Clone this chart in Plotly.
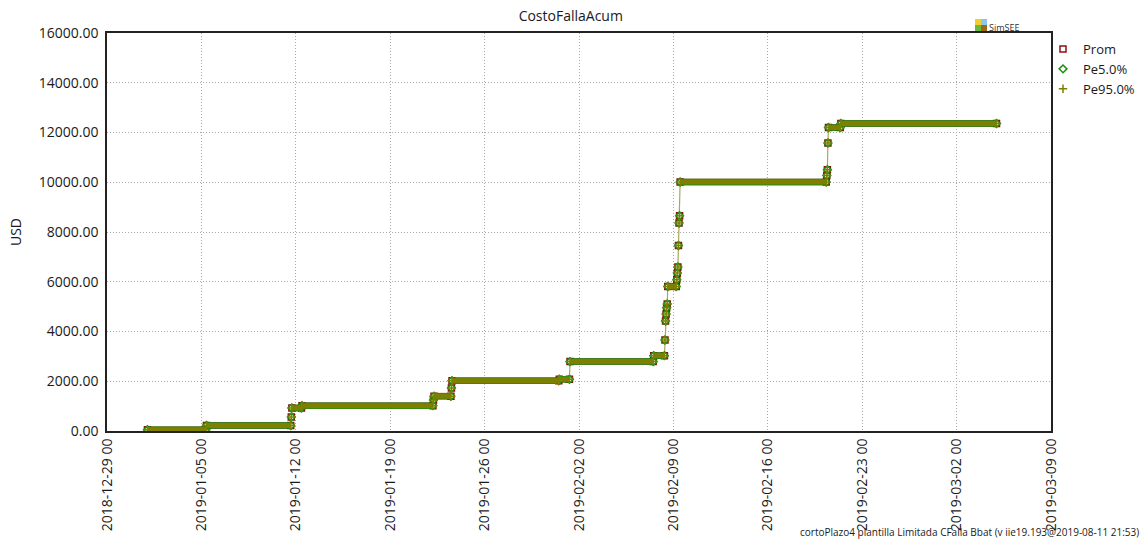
import plotly.graph_objects as go

# Hourly samples where the accumulated failure cost changes (start/end of each plateau
# and the intermediate hours of every failure event).
times = [
    "2019-01-01 00:00", "2019-01-05 08:00",
    "2019-01-05 09:00", "2019-01-11 15:00",
    "2019-01-11 16:00",
    "2019-01-11 17:00", "2019-01-12 10:00",
    "2019-01-12 11:00", "2019-01-22 04:00",
    "2019-01-22 05:00",
    "2019-01-22 06:00", "2019-01-23 12:00",
    "2019-01-23 13:00",
    "2019-01-23 14:00", "2019-01-31 12:00",
    "2019-01-31 13:00", "2019-02-01 07:00",
    "2019-02-01 08:00", "2019-02-07 12:00",
    "2019-02-07 13:00", "2019-02-08 08:00",
    "2019-02-08 09:00", "2019-02-08 10:00", "2019-02-08 11:00",
    "2019-02-08 12:00", "2019-02-08 13:00",
    "2019-02-08 14:00", "2019-02-09 05:00",
    "2019-02-09 06:00", "2019-02-09 07:00", "2019-02-09 08:00",
    "2019-02-09 09:00", "2019-02-09 10:00", "2019-02-09 11:00",
    "2019-02-09 12:00", "2019-02-20 08:00",
    "2019-02-20 09:00", "2019-02-20 10:00", "2019-02-20 11:00",
    "2019-02-20 12:00", "2019-02-21 09:00",
    "2019-02-21 10:00", "2019-03-04 23:00",
]

prom = [50, 50, 220, 220, 560, 925, 925, 1020, 1020, 1250, 1400, 1400, 1730,
        2020, 2020, 2080, 2080, 2790, 2790, 3030, 3030,
        3660, 4420, 4700, 4950, 5110, 5810, 5810,
        6080, 6350, 6590, 7460, 8360, 8650,
        10010, 10010, 10270, 10500, 11580, 12200, 12200, 12360, 12360]

pe05 = [50, 50, 220, 220, 560, 925, 925, 1020, 1020, 1250, 1400, 1400, 1730,
        2020, 2020, 2080, 2080, 2790, 2790, 3030, 3030,
        3660, 4420, 4700, 4950, 5110, 5810, 5810,
        6080, 6350, 6590, 7460, 8360, 8650,
        10010, 10010, 10270, 10500, 11580, 12200, 12200, 12360, 12360]

pe95 = [50, 50, 220, 220, 560, 925, 925, 1020, 1020, 1250, 1400, 1400, 1730,
        2020, 2020, 2080, 2080, 2790, 2790, 3030, 3030,
        3660, 4420, 4700, 4950, 5110, 5810, 5810,
        6080, 6350, 6590, 7460, 8360, 8650,
        10010, 10010, 10270, 10500, 11580, 12200, 12200, 12360, 12360]

y_ticks = [0, 2000, 4000, 6000, 8000, 10000, 12000, 14000, 16000]
x_ticks = ["2018-12-29", "2019-01-05", "2019-01-12", "2019-01-19", "2019-01-26",
           "2019-02-02", "2019-02-09", "2019-02-16", "2019-02-23", "2019-03-02",
           "2019-03-09"]

series = [
    ("Prom", prom, "#8b1010", "square-open", 6, 6.5),
    ("Pe5.0%", pe05, "#1f8f10", "diamond-open", 6, 6.5),
    ("Pe95.0%", pe95, "#7f7f00", "cross-thin-open", 6, 5.0),
]

FONT = "Open Sans, DejaVu Sans, sans-serif"

# Plot-area placement in pixels
W, H = 1144, 540
ML, MR, MT, MB = 107, 93, 33, 109
PW, PH = W - ML - MR, H - MT - MB


def px(x):
    return (x - ML) / PW


def py(y):
    return (H - MB - y) / PH


def plateaus(t, v):
    """Segments where the accumulated value stays flat between consecutive samples."""
    xs, ys = [], []
    for i in range(len(v) - 1):
        if v[i] == v[i + 1]:
            xs += [t[i], t[i + 1], None]
            ys += [v[i], v[i + 1], None]
    return xs, ys


fig = go.Figure()

# thin connecting line through every hourly sample
fig.add_trace(go.Scatter(
    x=times, y=pe95, mode="lines", showlegend=False, hoverinfo="skip",
    line=dict(color="#aaa65a", width=1.2),
))

for name, vals, color, symbol, msize, bandw in series:
    bx, by = plateaus(times, vals)
    fig.add_trace(go.Scatter(
        x=bx, y=by, mode="lines", showlegend=False, hoverinfo="skip",
        line=dict(color=color, width=bandw),
    ))
    fig.add_trace(go.Scatter(
        x=times, y=vals, mode="markers", name=name,
        marker=dict(symbol=symbol, size=msize, color=color,
                    line=dict(color=color, width=1.5)),
    ))

# SimSEE badge above the top-right corner of the plot
logo = [
    (975, 19, 981, 25, "#f2cf2e"),
    (981, 19, 987, 25, "#8cc6ee"),
    (975, 25, 981, 31, "#6cb83a"),
    (981, 25, 987, 31, "#9a6a10"),
]
shapes = [
    dict(type="rect", xref="paper", yref="paper",
         x0=px(a), y0=py(d), x1=px(c), y1=py(b),
         fillcolor=col, line=dict(width=0))
    for a, b, c, d, col in logo
]

fig.update_layout(
    width=W, height=H,
    margin=dict(l=ML, r=MR, t=MT, b=MB, autoexpand=False),
    paper_bgcolor="white", plot_bgcolor="white",
    font=dict(family=FONT, size=14, color="#1a1a1a"),
    title=dict(text="CostoFallaAcum", x=px(578), xanchor="center",
               y=1 - 16 / H, yanchor="middle",
               font=dict(family=FONT, size=14, color="#1a1a1a")),
    showlegend=True,
    legend=dict(x=px(1043), y=py(34), xanchor="left", yanchor="top",
                bgcolor="rgba(0,0,0,0)", borderwidth=0, itemwidth=30,
                tracegroupgap=0, font=dict(family=FONT, size=13, color="#1a1a1a")),
    shapes=shapes,
    annotations=[
        dict(text="SimSEE", xref="paper", yref="paper", x=px(987), y=py(27),
             xanchor="left", yanchor="middle", showarrow=False,
             font=dict(family=FONT, size=9, color="#333333")),
        dict(text="cortoPlazo4 plantilla Limitada CFalla Bbat (v iie19.193@2019-08-11 21:53)",
             xref="paper", yref="paper", x=px(1141), y=py(532),
             xanchor="right", yanchor="middle", showarrow=False,
             font=dict(family=FONT, size=10, color="#1a1a1a")),
    ],
)

GRID = dict(showgrid=True, gridcolor="#a8a8a8", griddash="1px,2px", gridwidth=1)

fig.update_xaxes(
    type="date", range=["2018-12-29", "2019-03-09"],
    tickmode="array", tickvals=x_ticks,
    ticktext=[t + " 00" for t in x_ticks],
    tickangle=-90, ticks="", **GRID,
    showline=True, linecolor="#222222", linewidth=2, mirror=True,
    zeroline=False, tickfont=dict(family=FONT, size=14, color="#1a1a1a"),
)
fig.update_yaxes(
    range=[0, 16000], tickmode="array", tickvals=y_ticks,
    ticktext=[f"{v:.2f}" for v in y_ticks],
    ticks="", ticklabelstandoff=4,
    title=dict(text="USD", standoff=14,
               font=dict(family=FONT, size=14, color="#1a1a1a")),
    **GRID,
    showline=True, linecolor="#222222", linewidth=1.5, mirror=True,
    zeroline=False, tickfont=dict(family=FONT, size=14, color="#1a1a1a"),
)

fig.write_html("out.html")
